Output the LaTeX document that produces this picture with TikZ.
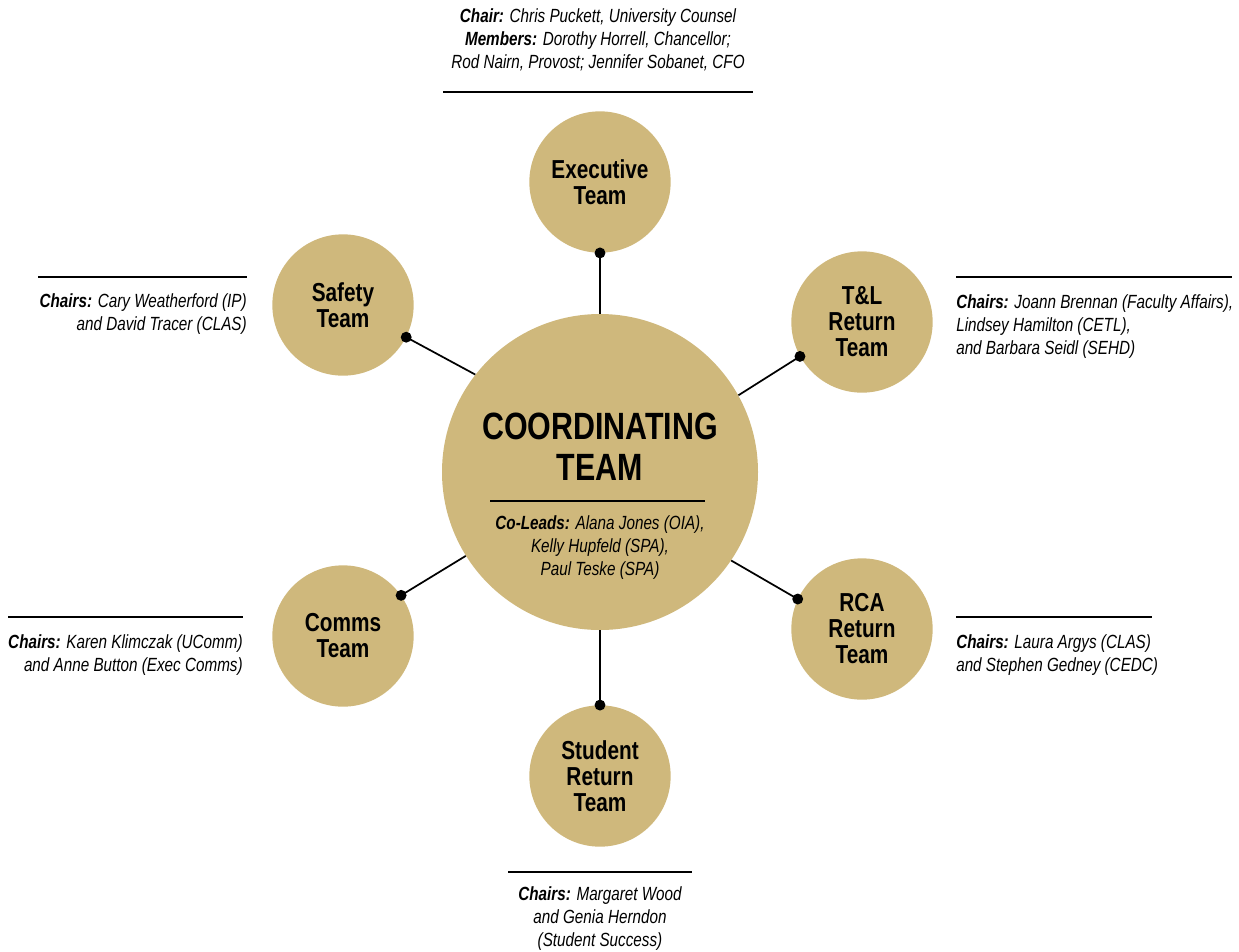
\documentclass[tikz,border=0pt]{standalone}
\usepackage{fontspec}
\setmainfont{Liberation Sans}[FakeStretch=0.80]
\usetikzlibrary{calc}
\definecolor{cugold}{HTML}{CFB87C}
\tikzset{
  team/.style={circle, fill=cugold, minimum size=106pt, inner sep=0pt, align=center,
    font=\bfseries\fontsize{19.5}{19.5}\selectfont},
  hub/.style={circle, fill=cugold, minimum size=237pt, inner sep=0pt},
  conn/.style={draw=black, line width=1.3pt},
  dotmark/.style={fill=black},
  rule/.style={draw=black, line width=1.3pt},
  info/.style={inner sep=0pt, font=\itshape\fontsize{14.3}{17.25}\selectfont},
}
\begin{document}
\begin{tikzpicture}[x=0.75pt,y=-0.75pt]
\useasboundingbox (0,0) rectangle (1239,951);
% circles
\node[hub] (hub) at (600,472) {};
\node[team] (exec) at (600,182) {Executive\\Team};
\node[team] (safety) at (343,305) {Safety\\Team};
\node[team] (tl) at (862,322) {T\&L\\Return\\Team};
\node[team] (comms) at (343,636) {Comms\\Team};
\node[team] (rca) at (862,629) {RCA\\Return\\Team};
\node[team] (student) at (600,776) {Student\\Return\\Team};
% hub text
\node[inner sep=0pt, align=center, font=\bfseries\fontsize{28.5}{30.75}\selectfont] (hubtitle) at (600,447) {COORDINATING\\TEAM};
\draw[rule] (490,501) -- (705,501);
\node[info, align=center] (coleads) at (600,548) {\textbf{Co-Leads:} Alana Jones (OIA),\\Kelly Hupfeld (SPA),\\Paul Teske (SPA)};
% connectors
\draw[conn] (exec.270) -- (hub.90);
\fill[dotmark] (exec.270) circle (4.1pt);
\draw[conn] (safety.333) -- (hub.142.4);
\fill[dotmark] (safety.333) circle (4.1pt);
\draw[conn] (tl.209.5) -- (hub.29);
\fill[dotmark] (tl.209.5) circle (4.1pt);
\draw[conn] (comms.35.2) -- (hub.212.5);
\fill[dotmark] (comms.35.2) circle (4.1pt);
\draw[conn] (rca.155.6) -- (hub.326.2);
\fill[dotmark] (rca.155.6) circle (4.1pt);
\draw[conn] (student.90) -- (hub.270);
\fill[dotmark] (student.90) circle (4.1pt);
% labels
\node[info, align=center] (execinfo) at (598,40) {\textbf{Chair:} Chris Puckett, University Counsel\\\textbf{Members:} Dorothy Horrell, Chancellor;\\Rod Nairn, Provost; Jennifer Sobanet, CFO};
\draw[rule] (443,92) -- (753,92);
\node[info, align=right, anchor=east] (safetyinfo) at (247,314) {\textbf{Chairs:} Cary Weatherford (IP)\\and David Tracer (CLAS)};
\draw[rule] (38,277) -- (247,277);
\node[info, align=left, anchor=west] (tlinfo) at (956,327) {\textbf{Chairs:} Joann Brennan (Faculty Affairs),\\Lindsey Hamilton (CETL),\\and Barbara Seidl (SEHD)};
\draw[rule] (956,277) -- (1232,277);
\node[info, align=right, anchor=east] (commsinfo) at (243,655) {\textbf{Chairs:} Karen Klimczak (UComm)\\and Anne Button (Exec Comms)};
\draw[rule] (8,617) -- (243,617);
\node[info, align=left, anchor=west] (rcainfo) at (956,655) {\textbf{Chairs:} Laura Argys (CLAS)\\and Stephen Gedney (CEDC)};
\draw[rule] (956,617) -- (1152,617);
\node[info, align=center] (studentinfo) at (600,919) {\textbf{Chairs:} Margaret Wood\\and Genia Herndon\\(Student Success)};
\draw[rule] (508,872) -- (692,872);
\end{tikzpicture}
\end{document}
